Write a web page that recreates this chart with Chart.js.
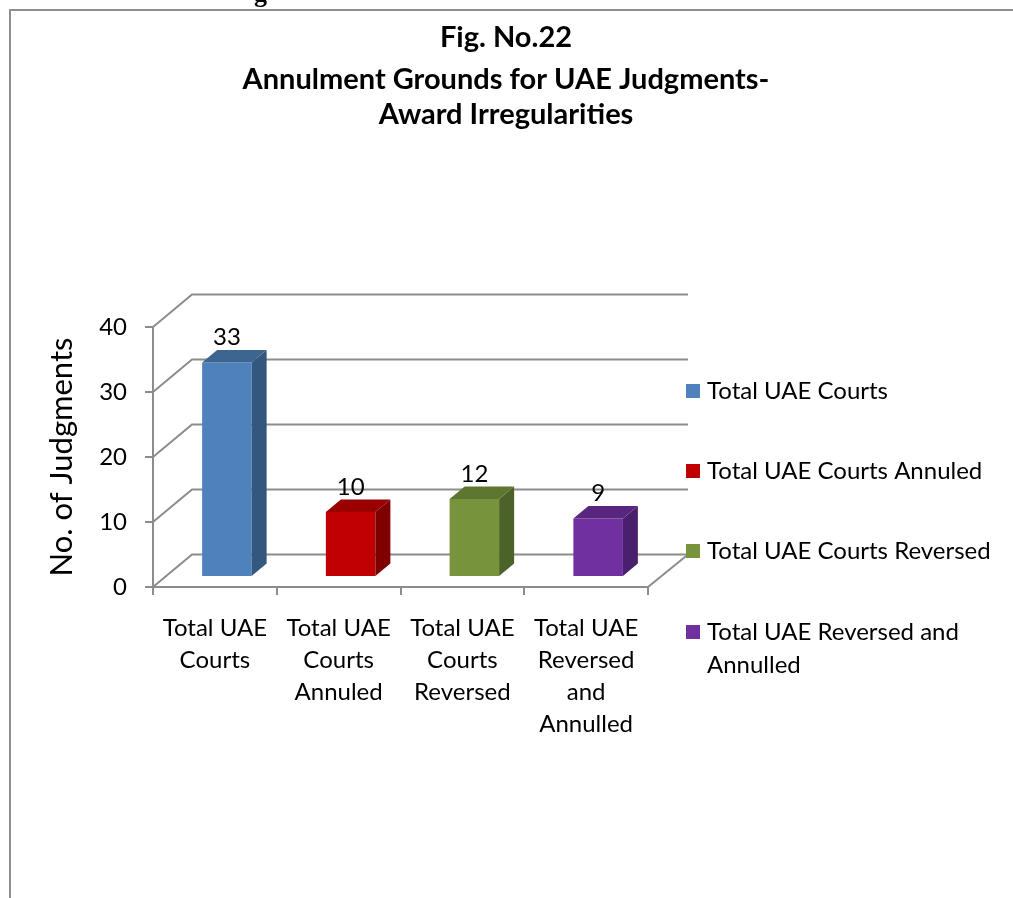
<!DOCTYPE html>
<html>
<head>
<meta charset="utf-8">
<title>Fig. No.22</title>
<script src="https://cdn.jsdelivr.net/npm/chart.js@4.4.1/dist/chart.umd.min.js"></script>
<style>
  html, body { margin: 0; padding: 0; background: #fff; }
  #wrap { position: relative; width: 1013px; height: 898px; }
</style>
</head>
<body>
<div id="wrap"><canvas id="judgmentsChart" width="1013" height="898"></canvas></div>
<script>
// data
const categories = [
  ["Total UAE", "Courts"],
  ["Total UAE", "Courts", "Annuled"],
  ["Total UAE", "Courts", "Reversed"],
  ["Total UAE", "Reversed", "and", "Annulled"]
];
const legendLabels = [
  ["Total UAE Courts"],
  ["Total UAE Courts Annuled"],
  ["Total UAE Courts Reversed"],
  ["Total UAE Reversed and", "Annulled"]
];
const judgments = [33, 10, 12, 9];
const yTicks = [0, 10, 20, 30, 40];
const titleLines = ["Fig. No.22", "Annulment Grounds for UAE Judgments-", "Award Irregularities"];

const frontColors = ["#4f81bd", "#c00000", "#77933c", "#7030a0"];
const topColors   = ["#3c6590", "#990000", "#5e7630", "#58267f"];
const sideColors  = ["#33577f", "#7f0000", "#4d6228", "#4a1f6c"];

const GRID = "#8c8c8c";
// 3D offsets (px)
const BACK_DX = 39, BACK_DY = -32.5;   // front plane -> back wall
const BAR_DX = 12, BAR_DY = -10;       // front plane -> bar front faces
const SIDE_DX = 15, SIDE_DY = -12.5;   // bar depth

Chart.defaults.font.family = "Lato, 'Open Sans', sans-serif";
Chart.defaults.color = "#000";

/* walls, bar depth, labels, legend */
const fakeThreeD = {
  id: "fakeThreeD",
  beforeDraw(chart) {
    const ctx = chart.ctx;
    const x = chart.scales.x, y = chart.scales.y;

    // frame of the figure
    ctx.save();
    ctx.strokeStyle = "#8f8f8f";
    ctx.lineWidth = 2;
    ctx.beginPath();
    ctx.moveTo(10, 898);
    ctx.lineTo(10, 10);
    ctx.lineTo(1013, 10);
    ctx.stroke();

    // bit of the heading above, cut off
    ctx.fillStyle = "#000";
    ctx.font = "bold 26px 'Liberation Serif', serif";
    ctx.textBaseline = "alphabetic";
    ctx.fillText("g", 254, 2);

    // title
    ctx.font = "bold 29px Lato, sans-serif";
    ctx.textAlign = "center";
    ctx.textBaseline = "middle";
    const titleY = [38, 80, 115];
    titleLines.forEach((t, i) => ctx.fillText(t, 506, titleY[i]));

    // back wall + side wall lines
    ctx.strokeStyle = GRID;
    ctx.lineWidth = 2;
    yTicks.forEach(v => {
      const py = y.getPixelForValue(v);
      ctx.beginPath();
      ctx.moveTo(x.left, py);
      ctx.lineTo(x.left + BACK_DX, py + BACK_DY);
      ctx.lineTo(x.right + BACK_DX + 1, py + BACK_DY);
      ctx.stroke();
    });
    // right edge of floor
    const p0 = y.getPixelForValue(0);
    ctx.beginPath();
    ctx.moveTo(x.right, p0);
    ctx.lineTo(x.right + BACK_DX + 1, p0 + BACK_DY);
    ctx.stroke();
    ctx.restore();
  },
  beforeDatasetsDraw(chart) {
    chart.ctx.save();
    chart.ctx.translate(BAR_DX, BAR_DY);
  },
  afterDatasetsDraw(chart) {
    const ctx = chart.ctx;
    const meta = chart.getDatasetMeta(0);
    meta.data.forEach((bar, i) => {
      const { x, y, base, width } = bar.getProps(["x", "y", "base", "width"], true);
      const l = x - width / 2, r = x + width / 2;
      // side
      ctx.fillStyle = sideColors[i];
      ctx.beginPath();
      ctx.moveTo(r, y);
      ctx.lineTo(r + SIDE_DX, y + SIDE_DY);
      ctx.lineTo(r + SIDE_DX, base + SIDE_DY);
      ctx.lineTo(r, base);
      ctx.closePath();
      ctx.fill();
      // top
      ctx.fillStyle = topColors[i];
      ctx.beginPath();
      ctx.moveTo(l, y);
      ctx.lineTo(l + SIDE_DX, y + SIDE_DY);
      ctx.lineTo(r + SIDE_DX, y + SIDE_DY);
      ctx.lineTo(r, y);
      ctx.closePath();
      ctx.fill();
      // value
      ctx.fillStyle = "#000";
      ctx.font = "24px Lato, sans-serif";
      ctx.textAlign = "center";
      ctx.textBaseline = "alphabetic";
      ctx.fillText(String(judgments[i]), x, y + SIDE_DY - 5);
    });
    ctx.restore();
  },
  afterDraw(chart) {
    const ctx = chart.ctx;
    ctx.save();
    ctx.font = "24px Lato, sans-serif";
    ctx.textAlign = "left";
    ctx.textBaseline = "middle";
    const itemY = [391, 471, 551, 632];
    legendLabels.forEach((lines, i) => {
      ctx.fillStyle = frontColors[i];
      ctx.fillRect(686, itemY[i] - 7, 14, 14);
      ctx.fillStyle = "#000";
      lines.forEach((t, k) => ctx.fillText(t, 707, itemY[i] + k * 33));
    });
    ctx.restore();
  }
};

new Chart(document.getElementById("judgmentsChart"), {
  type: "bar",
  data: {
    labels: categories,
    datasets: [{
      label: "No. of Judgments",
      data: judgments,
      backgroundColor: frontColors,
      borderWidth: 0,
      categoryPercentage: 1,
      barPercentage: 0.4
    }]
  },
  options: {
    responsive: false,
    animation: false,
    layout: { padding: { top: 327, left: 0, right: 365, bottom: 161 } },
    plugins: {
      legend: { display: false },
      tooltip: { enabled: false }
    },
    scales: {
      x: {
        offset: true,
        grid: { offset: true, drawOnChartArea: false, tickLength: 8, color: GRID, lineWidth: 2 },
        border: { color: GRID, width: 2 },
        ticks: { color: "#000", font: { size: 24, lineHeight: 1.333 }, padding: 17, maxRotation: 0, autoSkip: false },
        afterFit(s) { s.height = 150; }
      },
      y: {
        min: 0,
        max: 40,
        afterBuildTicks(s) { s.ticks = yTicks.map(v => ({ value: v })); },
        grid: { drawOnChartArea: false, tickLength: 8, color: GRID, lineWidth: 2 },
        border: { color: GRID, width: 2 },
        ticks: { color: "#000", font: { size: 24 }, padding: 18 },
        title: { display: true, text: "No. of Judgments", color: "#000", font: { size: 31 }, padding: { top: 43, bottom: 0 } },
        afterFit(s) { s.width = 153; }
      }
    }
  },
  plugins: [fakeThreeD]
});
</script>
</body>
</html>
